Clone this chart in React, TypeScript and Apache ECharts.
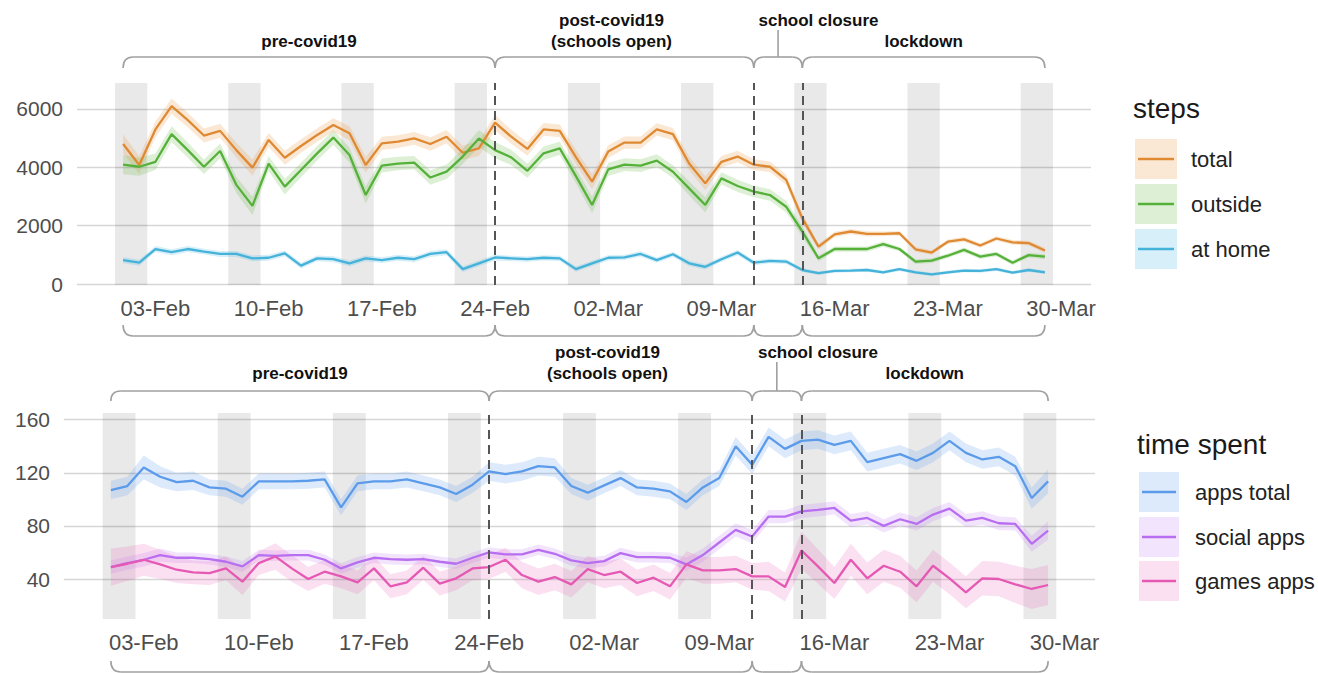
import React, { useEffect, useRef } from "react";
import * as echarts from "echarts";

// ---------------- data ----------------
// day index 0 = 01-Feb-2020 (Saturday)
const xTickDays = [2, 9, 16, 23, 30, 37, 44, 51, 58];
const xTickLabels = ["03-Feb", "10-Feb", "17-Feb", "24-Feb", "02-Mar", "09-Mar", "16-Mar", "23-Mar", "30-Mar"];
const weekendSaturdays = [0, 7, 14, 21, 28, 35, 42, 49, 56];
const phaseBreakDays = [23, 39, 42];
const phaseStart = [0, 23, 39, 42];
const phaseEnd = [23, 39, 42, 57];
const phaseLabelLines = [["pre-covid19"], ["post-covid19", "(schools open)"], ["school closure"], ["lockdown"]];
const phaseLabelDay = [11.5, 30.2, 43, 49.5];

const stepsTicks = [0, 2000, 4000, 6000];
const timeTicks = [40, 80, 120, 160];

const stepsNames = ["total", "outside", "at home"];
const timeNames = ["apps total", "social apps", "games apps"];

const stepsTotal = [4800, 4080, 5300, 6100, 5620, 5090, 5250, 4590, 3990, 4940, 4330, 4730, 5110, 5450, 5170, 4080, 4820, 4880, 4990, 4800, 5050, 4500, 4650, 5530, 5050, 4630, 5300, 5250, 4350, 3510, 4540, 4850, 4850, 5300, 5140, 4130, 3450, 4190, 4370, 4090, 4020, 3570, 2250, 1280, 1700, 1800, 1720, 1720, 1740, 1190, 1080, 1450, 1530, 1320, 1560, 1430, 1400, 1150];
const stepsOutside = [4090, 4020, 4190, 5140, 4590, 4020, 4560, 3400, 2680, 4130, 3340, 3910, 4480, 5020, 4420, 3050, 4060, 4130, 4160, 3650, 3850, 4370, 4990, 4590, 4340, 3880, 4480, 4650, 3700, 2710, 3930, 4090, 4060, 4230, 3850, 3280, 2710, 3620, 3360, 3170, 3050, 2650, 1800, 880, 1200, 1200, 1200, 1370, 1200, 770, 800, 970, 1170, 940, 1030, 730, 990, 940];
const stepsHome = [820, 730, 1200, 1090, 1200, 1110, 1030, 1030, 880, 900, 1050, 630, 880, 850, 710, 880, 820, 900, 850, 1030, 1090, 510, 710, 910, 880, 850, 900, 880, 510, 710, 900, 910, 1030, 820, 1020, 710, 590, 850, 1080, 730, 790, 770, 480, 370, 450, 460, 480, 400, 510, 400, 330, 400, 460, 450, 510, 390, 480, 400];

const stepsTotalHW = [330, 300, 270, 260, 250, 240, 240, 250, 280, 240, 240, 230, 230, 230, 240, 270, 230, 220, 220, 230, 230, 240, 260, 260, 240, 230, 220, 220, 240, 260, 220, 210, 210, 210, 210, 230, 240, 200, 200, 190, 180, 180, 170, 100, 90, 90, 90, 80, 80, 80, 80, 80, 80, 80, 80, 80, 80, 90];
const stepsOutsideHW = [330, 310, 280, 270, 260, 250, 260, 280, 310, 260, 270, 250, 250, 250, 260, 290, 240, 230, 230, 250, 250, 260, 290, 280, 260, 240, 230, 230, 250, 280, 230, 220, 220, 220, 220, 240, 260, 210, 210, 200, 200, 200, 180, 100, 90, 90, 90, 90, 80, 80, 80, 80, 80, 80, 80, 80, 80, 90];
const stepsHomeHW = [110, 100, 100, 100, 100, 100, 100, 100, 100, 100, 100, 100, 100, 100, 100, 100, 100, 100, 100, 100, 100, 100, 100, 100, 90, 90, 90, 90, 90, 90, 90, 90, 90, 90, 90, 90, 90, 90, 90, 90, 80, 80, 70, 60, 60, 60, 60, 60, 60, 60, 60, 60, 60, 60, 60, 60, 60, 60];

const appsTotal = [107, 110, 124, 117, 113, 114, 109, 108, 102, 113.5, 113.5, 113.5, 114, 115, 94, 112, 113.5, 113.5, 115, 112, 109, 104, 111, 121, 119, 121, 125, 124, 110, 105, 110.5, 116, 109, 108, 106, 98, 109, 116, 140, 126, 147, 138, 144, 145, 141, 144, 128, 131, 134, 129, 135, 144, 135, 130, 132, 125, 101, 113.5];
const socialApps = [49, 52, 54.5, 58, 56, 56, 55, 53, 49.5, 58, 57.5, 58, 58, 54.5, 48, 52.5, 56, 55, 54.5, 55, 53, 51.5, 56, 60, 58.5, 58.5, 62, 59, 54, 52, 53.5, 59.5, 56.5, 56.5, 56, 51, 58, 67.5, 77, 72, 87, 87, 91, 92, 93.5, 84, 86, 80, 85, 81.5, 88.5, 93, 84, 86, 82, 81.5, 66.5, 76.5];
const gamesApps = [49, 51.5, 54.5, 51, 47, 45, 44.5, 48, 38, 52, 57, 48, 40, 45.5, 42, 37.5, 48, 34.5, 37.5, 48.5, 36.5, 40.5, 48, 49, 54.5, 43, 38, 41.5, 36, 47.5, 43, 45.5, 37, 41, 34.5, 51, 46.5, 46.5, 47.5, 42, 42, 34, 61.5, 49.5, 37, 54.5, 40.5, 50, 45.5, 34.5, 50, 40.5, 30, 40.5, 40, 36, 32.5, 35.5];

const appsTotalHW = [7, 7, 9, 8, 7, 7, 6, 6, 6, 6, 6, 6, 6, 6, 6, 6, 6, 6, 6, 6, 6, 6, 6, 7, 7, 7, 7, 7, 6, 6, 6, 6, 6, 6, 6, 6, 6, 6, 7, 7, 7, 7, 7, 7, 7, 7, 7, 7, 7, 7, 7, 7, 7, 7, 7, 7, 8, 9];
const socialAppsHW = [5, 5, 5, 5, 4, 4, 4, 4, 4, 4, 4, 4, 4, 4, 4, 4, 4, 4, 4, 4, 4, 4, 4, 4, 4, 4, 4, 4, 4, 4, 4, 4, 4, 4, 4, 5, 5, 5, 5, 5, 5, 5, 5, 5, 5, 5, 5, 5, 5, 5, 5, 5, 5, 5, 5, 5, 6, 7];
const gamesAppsHW = [14, 13, 12, 11, 10, 9, 9, 9, 10, 9, 10, 10, 9, 9, 9, 9, 9, 9, 9, 9, 9, 9, 9, 9, 9, 10, 10, 10, 10, 10, 10, 10, 10, 10, 10, 10, 10, 10, 10, 10, 11, 11, 14, 13, 12, 12, 12, 12, 12, 12, 12, 12, 12, 13, 13, 14, 15, 15];

// ---------------- styles ----------------
const stepsColors = ["#DF8A32", "#55B13A", "#45B2DA"];
const stepsFills = ["rgba(233,150,60,0.22)", "rgba(100,185,70,0.22)", "rgba(70,180,225,0.22)"];
const timeColors = ["#5B9BEA", "#B86EF0", "#E558B3"];
const timeFills = ["rgba(100,160,240,0.22)", "rgba(195,120,245,0.2)", "rgba(235,100,185,0.2)"];

const FONT = "'Liberation Sans', Arial, Helvetica, sans-serif";
const FONT_NARROW = "'Liberation Sans Narrow', 'Arial Narrow', 'Liberation Sans', Arial, sans-serif";

function bandSeries(vals: number[], hw: number[], fill: string, axis: number) {
  return {
    type: "custom", xAxisIndex: axis, yAxisIndex: axis, silent: true, z: 2,
    encode: { x: 0, y: [1, 2] },
    data: vals.map((v, i) => [i, v - hw[i], v + hw[i]]),
    renderItem: (params: any, api: any) => {
      if (params.dataIndexInside !== 0) return null;
      const n = params.dataInsideLength;
      const up: number[][] = [];
      const dn: number[][] = [];
      for (let i = 0; i < n; i++) {
        up.push(api.coord([api.value(0, i), api.value(2, i)]));
        dn.push(api.coord([api.value(0, i), api.value(1, i)]));
      }
      return { type: "polygon", shape: { points: up.concat(dn.reverse()) }, style: { fill } };
    },
  };
}

function lineSeries(name: string, vals: number[], color: string, axis: number) {
  return {
    type: "line", name, data: vals.map((v, i) => [i, v]), xAxisIndex: axis, yAxisIndex: axis,
    symbol: "none", lineStyle: { color, width: 2.3 }, itemStyle: { color }, silent: true, z: 4,
  };
}

function weekendSeries(axis: number) {
  return {
    type: "custom", xAxisIndex: axis, yAxisIndex: axis, silent: true, z: 0,
    encode: { x: [0, 1] },
    data: weekendSaturdays.map((s) => [s, s + 1]),
    renderItem: (params: any, api: any) => {
      const x0 = api.coord([api.value(0) - 0.5, 100])[0];
      const x1 = api.coord([api.value(1) + 0.5, 100])[0];
      const cs = params.coordSys;
      return { type: "rect", shape: { x: x0, y: cs.y, width: x1 - x0, height: cs.height }, style: { fill: "rgba(0,0,0,0.085)" } };
    },
  };
}

function breakLines(axis: number) {
  return {
    type: "line", xAxisIndex: axis, yAxisIndex: axis, data: [], silent: true, z: 5,
    markLine: {
      silent: true, symbol: ["none", "none"], label: { show: false },
      lineStyle: { color: "#555", type: [9, 6], width: 2 },
      data: phaseBreakDays.map((d) => ({ xAxis: d })),
    },
  };
}

const xAxisBase = (gridIndex: number) => ({
  type: "value", gridIndex, min: -2.85, max: 59.85,
  axisLine: { show: false }, axisTick: { show: false }, splitLine: { show: false },
  axisLabel: {
    customValues: xTickDays, margin: 12, fontSize: 22, color: "#4D4D4D", fontFamily: FONT,
    formatter: (v: number) => { const i = xTickDays.indexOf(v); return i >= 0 ? xTickLabels[i] : ""; },
  },
});

const yAxisBase = (gridIndex: number, min: number, max: number, step: number, ticks: number[]) => ({
  type: "value", gridIndex, min, max, minInterval: step, maxInterval: step, splitNumber: 4,
  axisLine: { show: false }, axisTick: { show: false },
  splitLine: { show: true, showMinLine: false, showMaxLine: false, lineStyle: { color: "#D6D6D6", width: 1.3 } },
  axisLabel: {
    margin: 14, fontSize: 21, color: "#4D4D4D", fontFamily: FONT, showMinLabel: false, showMaxLabel: false,
    formatter: (v: number) => (ticks.indexOf(v) >= 0 ? String(v) : ""),
  },
});

function buildOption() {
  const series: any[] = [weekendSeries(0), weekendSeries(1)];
  const sv = [stepsTotal, stepsOutside, stepsHome];
  const sh = [stepsTotalHW, stepsOutsideHW, stepsHomeHW];
  stepsNames.forEach((n, k) => series.push(bandSeries(sv[k], sh[k], stepsFills[k], 0)));
  stepsNames.forEach((n, k) => series.push(lineSeries(n, sv[k], stepsColors[k], 0)));
  const tv = [appsTotal, socialApps, gamesApps];
  const th = [appsTotalHW, socialAppsHW, gamesAppsHW];
  timeNames.forEach((n, k) => series.push(bandSeries(tv[k], th[k], timeFills[k], 1)));
  timeNames.forEach((n, k) => series.push(lineSeries(n, tv[k], timeColors[k], 1)));
  series.push(breakLines(0), breakLines(1));
  return {
    animation: false,
    textStyle: { fontFamily: FONT },
    grid: [
      { left: 77, top: 83, width: 1014, height: 202 },
      { left: 64, top: 413, width: 1031, height: 206 },
    ],
    xAxis: [xAxisBase(0), xAxisBase(1)],
    yAxis: [yAxisBase(0, -34, 6891, 2000, stepsTicks), yAxisBase(1, 9.9, 165, 40, timeTicks)],
    series,
  };
}

function bracket(x0: number, x1: number, yLine: number, yEnd: number, out: any[]) {
  const r = 10;
  const st = { stroke: "#A0A0A0", lineWidth: 1.6, fill: "none" };
  out.push({ type: "bezierCurve", silent: true, shape: { x1: x0, y1: yEnd, x2: x0 + r, y2: yLine, cpx1: x0, cpy1: yLine }, style: st });
  out.push({ type: "line", silent: true, shape: { x1: x0 + r, y1: yLine, x2: x1 - r, y2: yLine }, style: st });
  out.push({ type: "bezierCurve", silent: true, shape: { x1: x1 - r, y1: yLine, x2: x1, y2: yEnd, cpx1: x1, cpy1: yLine }, style: st });
}

function buildGraphic(chart: any) {
  const out: any[] = [];
  const panels = [
    { axis: 0, upLine: 57, upEnd: 68, lowLine: 336, lowEnd: 325, row1: 20, row2: 41, tickTop: 30 },
    { axis: 1, upLine: 391, upEnd: 401, lowLine: 672, lowEnd: 661, row1: 352, row2: 373, tickTop: 362 },
  ];
  panels.forEach((p) => {
    const px = (d: number) => chart.convertToPixel({ xAxisIndex: p.axis }, d) as number;
    phaseStart.forEach((s, k) => {
      const x0 = px(s);
      const x1 = px(phaseEnd[k]);
      bracket(x0, x1, p.upLine, p.upEnd, out);
      bracket(x0, x1, p.lowLine, p.lowEnd, out);
      const lines = phaseLabelLines[k];
      const lx = px(phaseLabelDay[k]);
      lines.forEach((t, j) => {
        const y = lines.length === 2 ? (j === 0 ? p.row1 : p.row2) : (k === 2 ? p.row1 : p.row2);
        out.push({
          type: "text", silent: true, x: lx, y,
          style: { text: t, fontFamily: FONT_NARROW, fontWeight: "bold", fontSize: 17, fill: "#111", align: "center", verticalAlign: "middle" },
        });
      });
      if (k === 2) {
        const xm = (x0 + x1) / 2;
        out.push({ type: "line", silent: true, shape: { x1: xm, y1: p.upLine, x2: xm, y2: p.tickTop }, style: { stroke: "#A0A0A0", lineWidth: 1.6 } });
      }
    });
  });

  // legends
  const legends = [
    { title: "steps", tx: 1133, ty: 108, kx: 1135, kw: 42, ky: [139, 184, 229], lx: 1191, names: stepsNames, colors: stepsColors, fills: stepsFills },
    { title: "time spent", tx: 1137, ty: 444, kx: 1139, kw: 40, ky: [472, 517, 561], lx: 1195, names: timeNames, colors: timeColors, fills: timeFills },
  ];
  legends.forEach((L) => {
    out.push({ type: "text", silent: true, x: L.tx, y: L.ty, style: { text: L.title, fontFamily: FONT, fontSize: 28, fill: "#1A1A1A", align: "left", verticalAlign: "middle" } });
    L.names.forEach((n, i) => {
      const y = L.ky[i];
      out.push({ type: "rect", silent: true, shape: { x: L.kx, y, width: L.kw, height: 40 }, style: { fill: L.fills[i] } });
      out.push({ type: "line", silent: true, shape: { x1: L.kx + 3, y1: y + 20, x2: L.kx + L.kw - 3, y2: y + 20 }, style: { stroke: L.colors[i], lineWidth: 2.5 } });
      out.push({ type: "text", silent: true, x: L.lx, y: y + 20, style: { text: n, fontFamily: FONT, fontSize: 22, fill: "#222", align: "left", verticalAlign: "middle" } });
    });
  });
  return out;
}

export default function App() {
  const ref = useRef<HTMLDivElement>(null);
  useEffect(() => {
    const chart = echarts.init(ref.current as HTMLDivElement, null, { renderer: "svg" });
    chart.setOption(buildOption() as any);
    chart.setOption({ graphic: buildGraphic(chart) } as any);
    return () => chart.dispose();
  }, []);
  return <div ref={ref} style={{ position: "absolute", left: 0, top: 0, width: 1318, height: 673, background: "#fff" }} />;
}
